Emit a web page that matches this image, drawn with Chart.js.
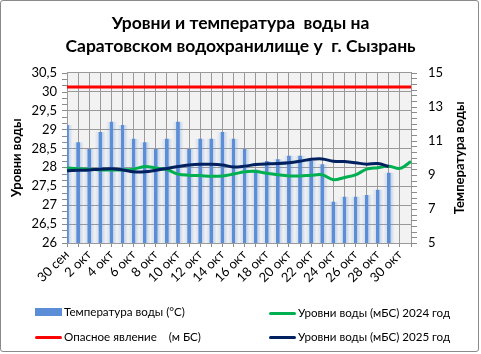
<!DOCTYPE html>
<html lang="ru">
<head>
<meta charset="utf-8">
<title>Уровни и температура воды — Сызрань</title>
<script src="https://cdn.jsdelivr.net/npm/chart.js@4/dist/chart.umd.min.js"></script>
<style>
    html, body { margin: 0; padding: 0; background: #fff; }
    #wrap { position: relative; width: 481px; height: 354px; overflow: hidden; }
    #chart { position: absolute; left: 0; top: 0; }
    #frame {
        position: absolute; left: 0; top: 0; width: 477px; height: 350px;
        border: 1.5px solid #8a8a8a; border-radius: 3px; pointer-events: none;
    }
    .lg { position: absolute; font: 11.6px Lato, sans-serif; color: #000; white-space: pre; line-height: 16px; }
    .sw { position: absolute; }
</style>
</head>
<body>
<div id="wrap">
    <canvas id="chart" width="481" height="354"></canvas>
    <div id="legend"></div>
    <div id="frame"></div>
</div>
<script>
// Axis categories (one per day, labels shown every second day)
const dates = [
    '30 сен', '1 окт', '2 окт', '3 окт', '4 окт', '5 окт', '6 окт', '7 окт',
    '8 окт', '9 окт', '10 окт', '11 окт', '12 окт', '13 окт', '14 окт', '15 окт',
    '16 окт', '17 окт', '18 окт', '19 окт', '20 окт', '21 окт', '22 окт', '23 окт',
    '24 окт', '25 окт', '26 окт', '27 окт', '28 окт', '29 окт', '30 окт', '31 окт'
];

// Water temperature, °C (right axis)
const waterTemp = [
    11.9, 10.9, 10.5, 11.5, 12.1, 11.9, 11.1, 10.9,
    10.5, 11.1, 12.1, 10.5, 11.1, 11.1, 11.5, 11.1,
    10.5, 9.3, 9.8, 9.9, 10.1, 10.1, 9.8, 9.6,
    7.4, 7.7, 7.7, 7.8, 8.1, 9.1, null, null
];

// Dangerous level, m BS
const dangerLevel = [
    30.12, 30.12, 30.12, 30.12, 30.12, 30.12, 30.12, 30.12,
    30.12, 30.12, 30.12, 30.12, 30.12, 30.12, 30.12, 30.12,
    30.12, 30.12, 30.12, 30.12, 30.12, 30.12, 30.12, 30.12,
    30.12, 30.12, 30.12, 30.12, 30.12, 30.12, 30.12, 30.12
];

// Water level 2024, m BS
const level2024 = [
    27.98, 27.96, 27.95, 27.93, 27.93, 27.93, 27.95, 28.02,
    27.98, 27.94, 27.82, 27.79, 27.78, 27.76, 27.77, 27.82,
    27.88, 27.89, 27.84, 27.80, 27.77, 27.77, 27.79, 27.80,
    27.67, 27.73, 27.80, 27.95, 27.99, 28.03, 27.97, 28.15
];

// Water level 2025, m BS
const level2025 = [
    27.91, 27.92, 27.93, 27.95, 27.96, 27.93, 27.88, 27.88,
    27.92, 27.97, 28.02, 28.06, 28.08, 28.08, 28.06, 28.01,
    28.03, 28.07, 28.09, 28.10, 28.12, 28.16, 28.21, 28.22,
    28.16, 28.15, 28.12, 28.08, 28.10, 28.02
];

// Tick ranges
const levelTicks = [26, 26.5, 27, 27.5, 28, 28.5, 29, 29.5, 30, 30.5];
const tempTicks = [5, 7, 9, 11, 13, 15];

const COLORS = {
    bar: '#5B8ED6',
    danger: '#FF0000',
    y2024: '#00B050',
    y2025: '#002060',
    grid: '#9A9A9A',
    plotBg: '#F2F2F2'
};

const FONT = 'Lato, "Noto Sans", sans-serif';

// Legend (2 x 2 grid like in the original)
const legendItems = [
    { text: 'Температура воды (°С)', color: COLORS.bar, type: 'box', x: 35, y: 312 },
    { text: 'Уровни воды (мБС) 2024 год', color: COLORS.y2024, type: 'line', x: 269, y: 313 },
    { text: 'Опасное явление    (м БС)', color: COLORS.danger, type: 'line', x: 35, y: 337 },
    { text: 'Уровни воды (мБС) 2025 год', color: COLORS.y2025, type: 'line', x: 269, y: 337 }
];

function buildLegend() {
    const host = document.getElementById('legend');
    legendItems.forEach(item => {
        const sw = document.createElement('div');
        sw.className = 'sw';
        sw.style.left = item.x + 'px';
        sw.style.width = '27px';
        sw.style.background = item.color;
        if (item.type === 'box') {
            sw.style.top = (item.y - 4) + 'px';
            sw.style.height = '8px';
        } else {
            sw.style.top = (item.y - 1.5) + 'px';
            sw.style.height = '3px';
            sw.style.borderRadius = '1.5px';
        }
        host.appendChild(sw);

        const t = document.createElement('div');
        t.className = 'lg';
        t.style.left = (item.x + 29) + 'px';
        t.style.top = (item.y - 8) + 'px';
        t.textContent = item.text;
        host.appendChild(t);
    });
}

// Gradient for the thin "glowing" temperature bars
function barGradient(context) {
    const chart = context.chart;
    const xScale = chart.scales.x;
    if (!xScale || !chart.chartArea) return COLORS.bar;
    const x = xScale.getPixelForValue(context.dataIndex);
    const g = chart.ctx.createLinearGradient(x - 5, 0, x + 5, 0);
    g.addColorStop(0, 'rgba(91,142,214,0.04)');
    g.addColorStop(0.3, 'rgba(91,142,214,0.18)');
    g.addColorStop(0.36, COLORS.bar);
    g.addColorStop(0.64, COLORS.bar);
    g.addColorStop(0.7, 'rgba(91,142,214,0.3)');
    g.addColorStop(1, 'rgba(91,142,214,0.05)');
    return g;
}

// Plot background, minor ticks and right axis title
const decorPlugin = {
    id: 'decor',
    beforeDraw(chart) {
        const { ctx, chartArea: a } = chart;
        ctx.save();
        ctx.fillStyle = COLORS.plotBg;
        ctx.fillRect(a.left, a.top, a.right - a.left, a.bottom - a.top);
        ctx.restore();
    },
    afterDraw(chart) {
        const { ctx, chartArea: a, scales } = chart;
        ctx.save();
        ctx.strokeStyle = '#8C8C8C';
        ctx.lineWidth = 1;
        ctx.beginPath();
        // left axis minor ticks
        for (let v = 26; v <= 30.5 + 1e-6; v += 0.5 / 3) {
            const y = Math.round(scales.y.getPixelForValue(v)) + 0.5;
            ctx.moveTo(a.left - 5, y);
            ctx.lineTo(a.left, y);
        }
        // right axis minor ticks
        for (let v = 5; v <= 15 + 1e-6; v += 1 / 3) {
            const y = Math.round(scales.y1.getPixelForValue(v)) + 0.5;
            ctx.moveTo(a.right, y);
            ctx.lineTo(a.right + 6, y);
        }
        ctx.stroke();

        // right axis title reads bottom-to-top
        ctx.translate(460, (a.top + a.bottom) / 2);
        ctx.rotate(-Math.PI / 2);
        ctx.fillStyle = '#000';
        ctx.font = 'bold 13px ' + FONT;
        ctx.textAlign = 'center';
        ctx.textBaseline = 'middle';
        ctx.fillText('Температура воды', 0, 0);
        ctx.restore();
    }
};

function fmtComma(v) {
    return String(v).replace('.', ',');
}

function createChart() {
    const ctx = document.getElementById('chart');
    Chart.defaults.font.family = FONT;
    Chart.defaults.color = '#000';

    return new Chart(ctx, {
        data: {
            labels: dates,
            datasets: [
                {
                    type: 'line',
                    label: 'Опасное явление    (м БС)',
                    data: dangerLevel,
                    borderColor: COLORS.danger,
                    borderWidth: 3,
                    pointRadius: 0,
                    yAxisID: 'y',
                    order: 1
                },
                {
                    type: 'line',
                    label: 'Уровни воды (мБС) 2024 год',
                    data: level2024,
                    borderColor: COLORS.y2024,
                    borderWidth: 3,
                    pointRadius: 0,
                    tension: 0.35,
                    yAxisID: 'y',
                    order: 2
                },
                {
                    type: 'line',
                    label: 'Уровни воды (мБС) 2025 год',
                    data: level2025,
                    borderColor: COLORS.y2025,
                    borderWidth: 3,
                    pointRadius: 0,
                    tension: 0.35,
                    yAxisID: 'y',
                    order: 0
                },
                {
                    type: 'bar',
                    label: 'Температура воды (°С)',
                    data: waterTemp,
                    backgroundColor: barGradient,
                    barThickness: 10,
                    yAxisID: 'y1',
                    order: 5
                }
            ]
        },
        options: {
            responsive: false,
            animation: false,
            layout: { padding: { left: 0, right: 0, top: 0, bottom: 60 } },
            plugins: {
                legend: { display: false },
                tooltip: { enabled: false },
                title: {
                    display: true,
                    text: ['Уровни и температура  воды на', 'Саратовском водохранилище у  г. Сызрань'],
                    font: { size: 17.5, weight: 'bold', lineHeight: 1.36 },
                    color: '#000',
                    padding: { top: 11, bottom: 14 }
                }
            },
            scales: {
                x: {
                    offset: false,
                    grid: { color: COLORS.grid, offset: false, tickLength: 4, tickColor: '#8C8C8C' },
                    border: { color: COLORS.grid },
                    ticks: {
                        autoSkip: false,
                        minRotation: 45,
                        maxRotation: 45,
                        padding: 0,
                        font: { size: 13 },
                        callback: (v, i) => (i % 2 === 0 ? dates[i] : '')
                    },
                    afterFit: s => { s.height = 51; }
                },
                y: {
                    position: 'left',
                    min: levelTicks[0],
                    max: levelTicks[levelTicks.length - 1],
                    afterBuildTicks: s => { s.ticks = levelTicks.map(v => ({ value: v })); },
                    grid: { color: COLORS.grid, drawTicks: false },
                    border: { color: COLORS.grid },
                    ticks: { padding: 10, font: { size: 13 }, callback: v => fmtComma(v) },
                    title: {
                        display: true,
                        text: 'Уровни воды',
                        font: { size: 13, weight: 'bold' },
                        padding: { top: 9, bottom: 0 }
                    },
                    afterFit: s => { s.width = 67; }
                },
                y1: {
                    position: 'right',
                    min: tempTicks[0],
                    max: tempTicks[tempTicks.length - 1],
                    afterBuildTicks: s => { s.ticks = tempTicks.map(v => ({ value: v })); },
                    grid: { drawOnChartArea: false, drawTicks: false },
                    border: { color: COLORS.grid },
                    ticks: { padding: 17, font: { size: 13 } },
                    afterFit: s => { s.width = 70; }
                }
            }
        },
        plugins: [decorPlugin]
    });
}

buildLegend();
createChart();
</script>
</body>
</html>
